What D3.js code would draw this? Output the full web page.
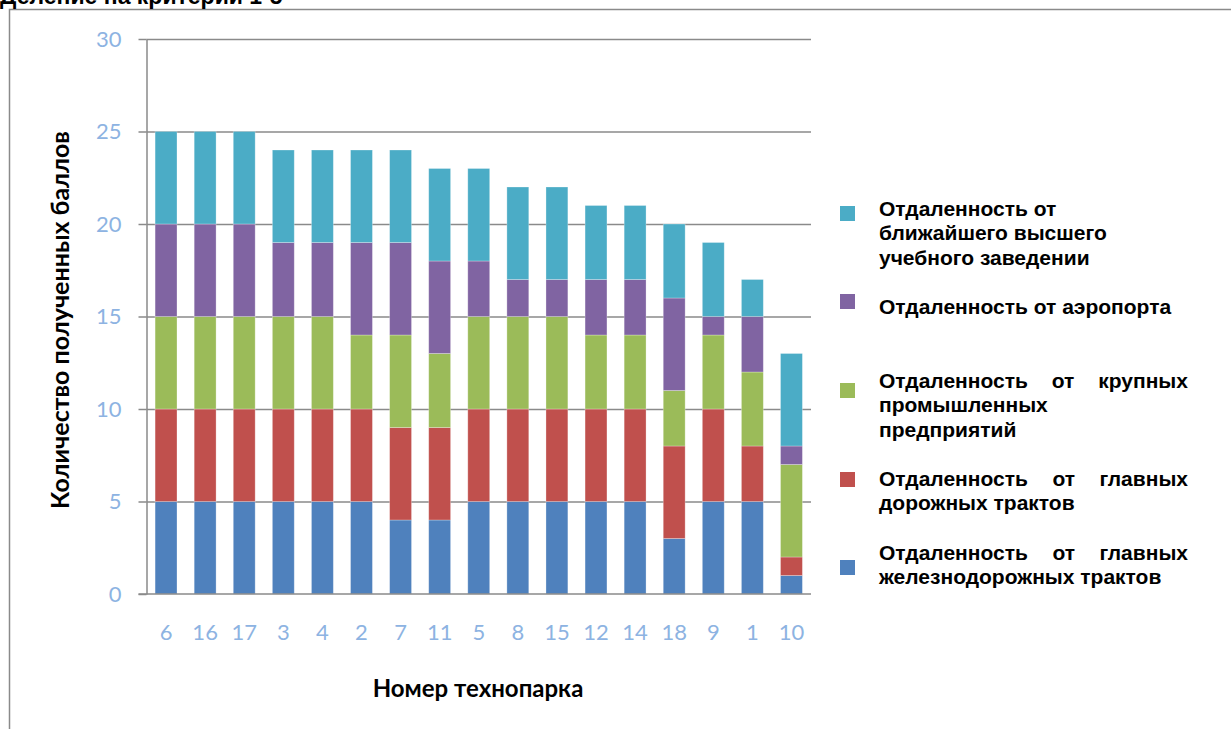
<!DOCTYPE html>
<html>
<head>
<meta charset="utf-8">
<script src="https://cdn.jsdelivr.net/npm/d3@7"></script>
<style>
  body { margin: 0; background: #fff; }
  svg { display: block; }
</style>
</head>
<body>
<svg width="1231" height="729"></svg>
<script>
// data
var parks = ["6","16","17","3","4","2","7","11","5","8","15","12","14","18","9","1","10"];
var rail       = [5,5,5,5,5,5,4,4,5,5,5,5,5,3,5,5,1];
var road       = [5,5,5,5,5,5,5,5,5,5,5,5,5,5,5,3,1];
var industry   = [5,5,5,5,5,4,5,4,5,5,5,4,4,3,4,4,5];
var airport    = [5,5,5,4,4,5,5,5,3,2,2,3,3,5,1,3,1];
var university = [5,5,5,5,5,5,5,5,5,5,5,4,4,4,4,2,5];
var yTicks = [0,5,10,15,20,25,30];

var seriesKeys = ["rail","road","industry","airport","university"];
var colors = {rail:"#4F81BD", road:"#C0504D", industry:"#9BBB59", airport:"#8064A2", university:"#4BACC6"};

// legend text, top to bottom
var legendKeys = ["university","airport","industry","road","rail"];
var legendLines = {
  university: ["Отдаленность от", "ближайшего высшего", "учебного заведении"],
  airport: ["Отдаленность от аэропорта"],
  industry: ["Отдаленность от крупных", "промышленных", "предприятий"],
  road: ["Отдаленность от главных", "дорожных трактов"],
  rail: ["Отдаленность от главных", "железнодорожных трактов"]
};
var legendJustify = {university:false, airport:false, industry:true, road:true, rail:true};

var svg = d3.select("svg");

var rows = parks.map(function(p, i) {
  return {park:p, rail:rail[i], road:road[i], industry:industry[i], airport:airport[i], university:university[i]};
});

var plotL = 146.5, plotR = 811, plotT = 39, plotB = 594;

var x = d3.scaleBand().domain(parks).range([plotL, plotR]).paddingInner(0.44).paddingOuter(0.22);
var y = d3.scaleLinear().domain([0,30]).range([plotB, plotT]);

var tickColor = "#8DB3E2";
var lineColor = "#8a8a8a";

// outer frame
svg.append("rect")
  .attr("x", 9.5).attr("y", 9.5)
  .attr("width", 1300).attr("height", 800)
  .attr("fill", "none").attr("stroke", lineColor).attr("stroke-width", 1.5);

// title (cut off at top, as in the source)
svg.append("text")
  .attr("x", 0).attr("y", 4)
  .attr("font-family", "Liberation Sans, Arial, sans-serif")
  .attr("font-weight", "bold").attr("font-size", 23)
  .text("Деление на критерии 1-5");

// gridlines
var grid = svg.append("g")
  .attr("transform", "translate(" + plotL + ",0)")
  .call(d3.axisLeft(y).tickValues(yTicks.slice(1)).tickSize(-(plotR - plotL)).tickFormat(""));
grid.select(".domain").remove();
grid.selectAll("line").attr("stroke", lineColor).attr("stroke-width", 1.5);

// y axis
var yAxis = svg.append("g")
  .attr("transform", "translate(" + plotL + ",0)")
  .call(d3.axisLeft(y).tickValues(yTicks).tickSize(8).tickSizeOuter(0).tickPadding(17));
yAxis.select(".domain").attr("stroke", lineColor).attr("stroke-width", 1.5);
yAxis.selectAll("line").attr("stroke", lineColor).attr("stroke-width", 1.5);
yAxis.selectAll("text")
  .attr("fill", tickColor).attr("font-family", "Lato, sans-serif").attr("font-size", 22);

// bars
var stack = d3.stack().keys(seriesKeys);
var layers = stack(rows);

svg.append("g").selectAll("g")
  .data(layers)
  .enter().append("g")
  .attr("fill", function(d) { return colors[d.key]; })
  .selectAll("rect")
  .data(function(d) { return d; })
  .enter().append("rect")
  .attr("x", function(d) { return x(d.data.park); })
  .attr("width", x.bandwidth())
  .attr("y", function(d) { return y(d[1]); })
  .attr("height", function(d) { return y(d[0]) - y(d[1]); })
  .attr("stroke", "#ffffff").attr("stroke-opacity", 0.35).attr("stroke-width", 0.8);

// x axis
var xAxis = svg.append("g")
  .attr("transform", "translate(0," + plotB + ")")
  .call(d3.axisBottom(x).tickSize(0).tickPadding(30));
xAxis.select(".domain").attr("d", "M" + (plotL - 8) + ",0H" + plotR)
  .attr("stroke", lineColor).attr("stroke-width", 1.5);
xAxis.selectAll("text")
  .attr("fill", tickColor).attr("font-family", "Lato, sans-serif").attr("font-size", 22);

// axis titles
svg.append("text")
  .attr("transform", "translate(69,320) rotate(-90)")
  .attr("text-anchor", "middle")
  .attr("font-family", "Lato, sans-serif").attr("font-weight", "bold").attr("font-size", 25)
  .text("Количество полученных баллов");

svg.append("text")
  .attr("x", 478).attr("y", 697)
  .attr("text-anchor", "middle")
  .attr("font-family", "Lato, sans-serif").attr("font-weight", "bold").attr("font-size", 24)
  .text("Номер технопарка");

// legend
var legX = 840, textX = 879, textRight = 1188, lineH = 24.3;
var squareTop = [206, 294, 383, 472, 560];
var firstBase = [216, 314, 388, 486, 560];

var leg = svg.append("g")
  .attr("font-family", "Liberation Sans, Arial, sans-serif")
  .attr("font-weight", "bold").attr("font-size", 21);

legendKeys.forEach(function(k, i) {
  leg.append("rect")
    .attr("x", legX).attr("y", squareTop[i])
    .attr("width", 15).attr("height", 15)
    .attr("fill", colors[k]);
  var lines = legendLines[k];
  lines.forEach(function(line, j) {
    var yy = firstBase[i] + j * lineH;
    var words = line.split(" ");
    var justify = legendJustify[k] && j < lines.length - 1 && words.length > 1;
    if (!justify) {
      leg.append("text").attr("x", textX).attr("y", yy).text(line);
      return;
    }
    // spread words across the full width, like justified text
    var ws = words.map(function(w) {
      return leg.append("text").attr("y", yy).text(w);
    });
    var widths = ws.map(function(t) { return t.node().getComputedTextLength(); });
    var gap = (textRight - textX - d3.sum(widths)) / (words.length - 1);
    var cx = textX;
    ws.forEach(function(t, n) {
      t.attr("x", cx);
      cx += widths[n] + gap;
    });
  });
});
</script>
</body>
</html>
